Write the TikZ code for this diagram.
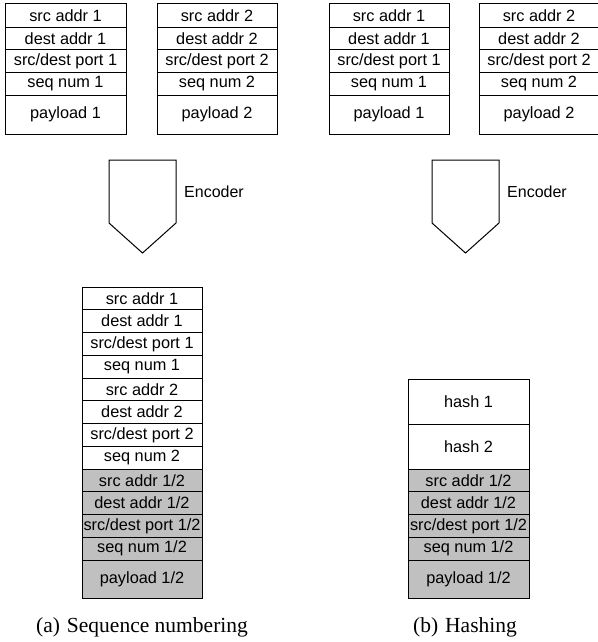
\documentclass[tikz,border=0pt]{standalone}
\usepackage{fontspec}
\setmainfont{Liberation Serif}
\newfontfamily\cellfont{Liberation Sans}
\definecolor{cellgray}{RGB}{192,192,192}
\begin{document}
\begin{tikzpicture}[x=1pt,y=-1pt,
  cell/.style={draw, line width=1pt, inner sep=0pt, fill=white,
    font=\cellfont\fontsize{16.3}{18}\selectfont},
  shaded/.style={cell, fill=cellgray},
  enc/.style={draw, line width=1pt, line join=miter},
  lbl/.style={font=\cellfont\fontsize{16}{18}\selectfont, inner sep=0pt, anchor=west},
  captext/.style={font=\fontsize{21.5}{24}\selectfont, inner sep=0pt, anchor=base}]
\useasboundingbox (0,0) rectangle (597,642);

% top packets (left panel)
\foreach \nm/\ya/\yb/\tx in {p1a/4/27.5/src addr 1, p1b/27.5/50/dest addr 1,
    p1c/50/72.5/src\slash dest port 1, p1d/72.5/95/seq num 1, p1e/95/134/payload 1}
  \node[cell, minimum width=121, minimum height=\yb-\ya] (\nm) at (65.5,{(\ya+\yb)/2}) {\tx};
\foreach \nm/\ya/\yb/\tx in {p2a/4/27.5/src addr 2, p2b/27.5/50/dest addr 2,
    p2c/50/72.5/src\slash dest port 2, p2d/72.5/95/seq num 2, p2e/95/134/payload 2}
  \node[cell, minimum width=120, minimum height=\yb-\ya] (\nm) at (217,{(\ya+\yb)/2}) {\tx};

% top packets (right panel)
\foreach \nm/\ya/\yb/\tx in {q1a/4/27.5/src addr 1, q1b/27.5/50/dest addr 1,
    q1c/50/72.5/src\slash dest port 1, q1d/72.5/95/seq num 1, q1e/95/134/payload 1}
  \node[cell, minimum width=120, minimum height=\yb-\ya] (\nm) at (389,{(\ya+\yb)/2}) {\tx};
\foreach \nm/\ya/\yb/\tx in {q2a/4/27.5/src addr 2, q2b/27.5/50/dest addr 2,
    q2c/50/72.5/src\slash dest port 2, q2d/72.5/95/seq num 2, q2e/95/134/payload 2}
  \node[cell, minimum width=120, minimum height=\yb-\ya] (\nm) at (539,{(\ya+\yb)/2}) {\tx};

% encoders
\draw[enc] (109,160) -- (176,160) -- (176,223) -- (142.5,253) -- (109,223) -- cycle;
\node[lbl] (encA) at (184,192) {Encoder};
\draw[enc] (432,160) -- (499,160) -- (499,223) -- (465.5,253) -- (432,223) -- cycle;
\node[lbl] (encB) at (507,192) {Encoder};

% sequence numbering result
\foreach \nm/\ya/\yb/\tx in {s1/287/309.75/src addr 1, s2/309.75/332.5/dest addr 1,
    s3/332.5/355.25/src\slash dest port 1, s4/355.25/378/seq num 1,
    s5/378/400.75/src addr 2, s6/400.75/423.5/dest addr 2,
    s7/423.5/446.25/src\slash dest port 2, s8/446.25/469/seq num 2}
  \node[cell, minimum width=120, minimum height=\yb-\ya] (\nm) at (142,{(\ya+\yb)/2}) {\tx};
\foreach \nm/\ya/\yb/\tx in {s9/469/491.75/src addr 1\slash 2, s10/491.75/514.5/dest addr 1\slash 2,
    s11/514.5/537.25/src\slash dest port 1\slash 2, s12/537.25/560/seq num 1\slash 2,
    s13/560/598/payload 1\slash 2}
  \node[shaded, minimum width=120, minimum height=\yb-\ya] (\nm) at (142,{(\ya+\yb)/2}) {\tx};

% hashing result
\foreach \nm/\ya/\yb/\tx in {h1/379/424/hash 1, h2/424/469/hash 2}
  \node[cell, minimum width=121, minimum height=\yb-\ya] (\nm) at (468.5,{(\ya+\yb)/2}) {\tx};
\foreach \nm/\ya/\yb/\tx in {h3/469/491.75/src addr 1\slash 2, h4/491.75/514.5/dest addr 1\slash 2,
    h5/514.5/537.25/src\slash dest port 1\slash 2, h6/537.25/560/seq num 1\slash 2,
    h7/560/598/payload 1\slash 2}
  \node[shaded, minimum width=121, minimum height=\yb-\ya] (\nm) at (468.5,{(\ya+\yb)/2}) {\tx};

% captions
\node[captext] (capA) at (142,632) {(a)\hspace{7pt}Sequence numbering};
\node[captext] (capB) at (465,632) {(b)\hspace{7pt}Hashing};
\end{tikzpicture}
\end{document}
